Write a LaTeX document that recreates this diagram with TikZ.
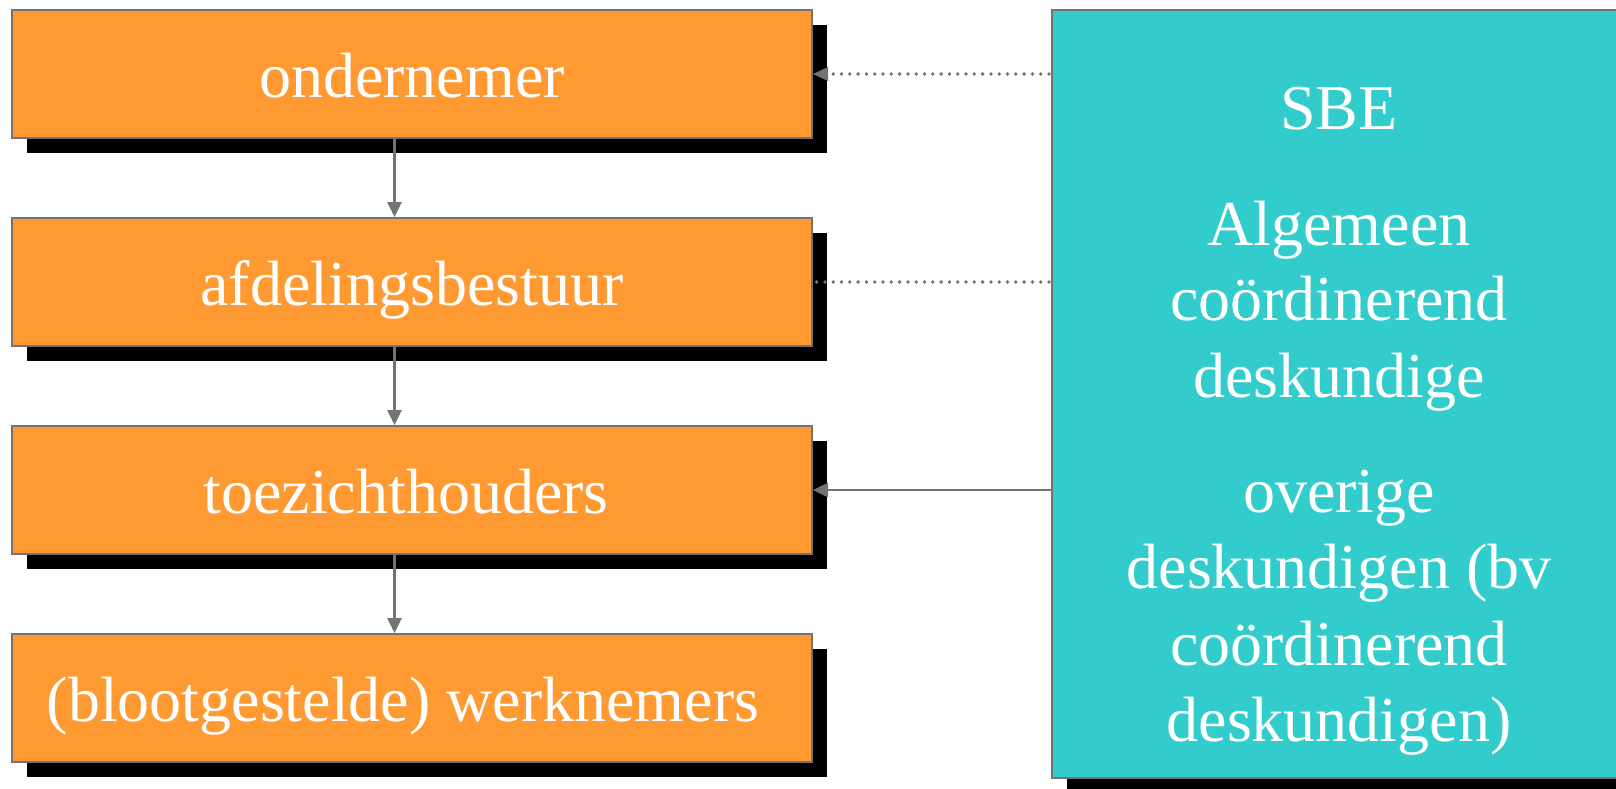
\documentclass[tikz,border=0pt]{standalone}
\usepackage{fontspec}
\setmainfont{Liberation Serif}
\usetikzlibrary{arrows.meta}
\definecolor{boxorange}{HTML}{FF9A33}
\definecolor{boxteal}{HTML}{33CCCC}
\definecolor{edgegray}{HTML}{737373}
\tikzset{
  x=1pt, y=1pt,
  shadowbox/.style={fill=black, draw=none, minimum width=800pt, minimum height=128pt, anchor=north west, inner sep=0pt},
  rolebox/.style={fill=boxorange, draw=edgegray, line width=2pt, minimum width=800pt, minimum height=128pt, anchor=north west, inner sep=0pt},
  label/.style={text=white, font=\fontsize{64}{76}\selectfont, anchor=base, inner sep=0pt},
  link/.style={draw=edgegray, line width=2.6pt},
  tip/.style={-{Triangle[length=15pt,width=14pt]}},
  dots/.style={line width=3.8pt, line cap=round, dash pattern=on 0pt off 8.3pt}
}
\begin{document}
\begin{tikzpicture}
\useasboundingbox (0,0) rectangle (1616,-788);
\clip (0,0) rectangle (1616,-788);

% shadows behind the boxes
\foreach \t in {9,217,425,633} {
  \node[shadowbox] at (27,-\t-16) {};
}
\fill[black] (1067,-25) rectangle (1700,-793);

% hierarchy boxes
\node[rolebox] (o1) at (11,-9) {};
\node[rolebox] (o2) at (11,-217) {};
\node[rolebox] (o3) at (11,-425) {};
\node[rolebox] (o4) at (11,-633) {};

\node[label] at ([yshift=-23pt]o1.center) {ondernemer};
\node[label] at ([yshift=-23pt]o2.center) {afdelingsbestuur};
\node[label] at ([xshift=-6pt,yshift=-23pt]o3.center) {toezichthouders};
\node[label] at ([xshift=-9pt,yshift=-23pt]o4.center) {(blootgestelde) werknemers};

% expert box
\node[fill=boxteal, draw=edgegray, line width=2pt, anchor=north west, inner sep=0pt,
      minimum width=600pt, minimum height=768pt] (sbe) at (1051,-9) {};

\node[label] at (1339,-129) {SBE};
\node[label] at (1339,-245) {Algemeen};
\node[label] at (1339,-320) {coördinerend};
\node[label] at (1339,-397) {deskundige};
\node[label] at (1339,-512) {overige};
\node[label] at (1339,-588) {deskundigen (bv};
\node[label] at (1339,-665) {coördinerend};
\node[label] at (1339,-741) {deskundigen)};

% chain of command
\coordinate (a1) at (394.5,0);
\draw[link,tip] (a1 |- o1.south) -- (a1 |- o2.north);
\draw[link,tip] (a1 |- o2.south) -- (a1 |- o3.north);
\draw[link,tip] (a1 |- o3.south) -- (a1 |- o4.north);

% advice lines
\draw[draw=edgegray, dots] ([xshift=-2pt]sbe.west |- o1.east) -- ([xshift=14pt]o1.east);
\fill[edgegray] (o1.east) -- ++(15,7) -- ++(0,-7) -- ++(0,-7) -- cycle;
\draw[draw=edgegray, dots] ([xshift=-2pt]sbe.west |- o2.east) -- (o2.east);
\draw[link,tip] (sbe.west |- o3.east) -- (o3.east);
\end{tikzpicture}
\end{document}
